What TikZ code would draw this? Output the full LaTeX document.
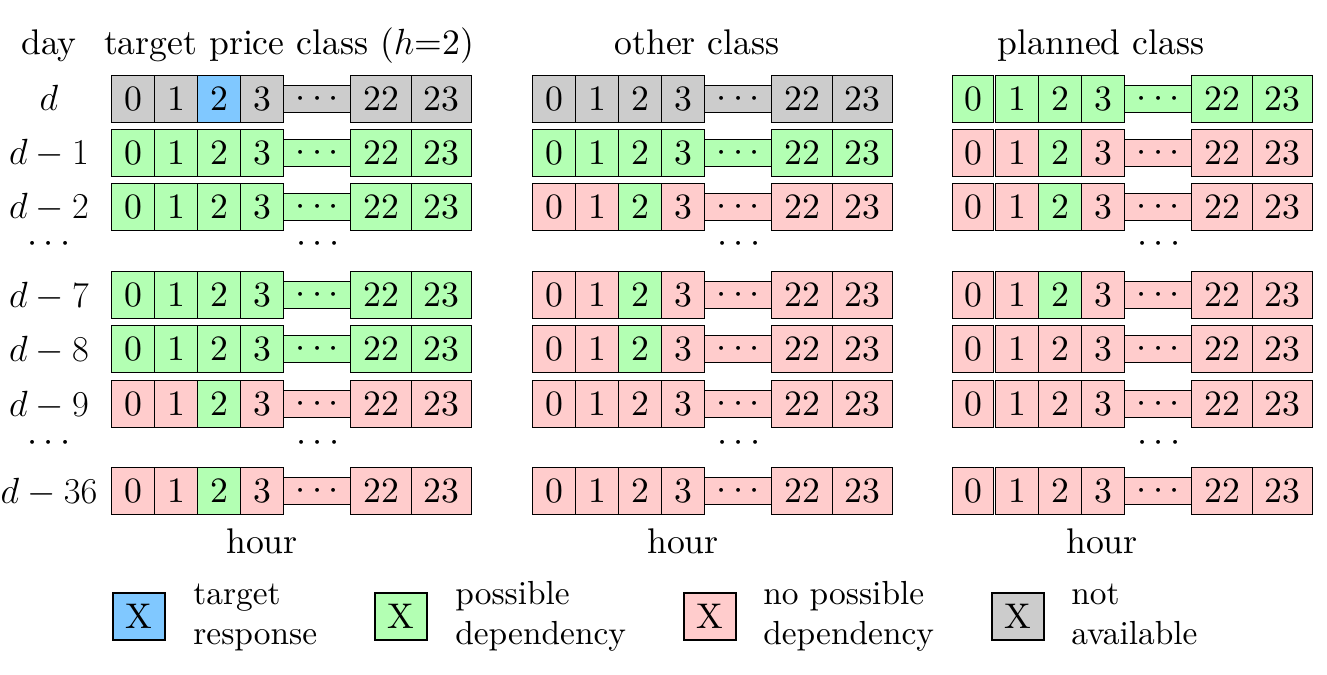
\documentclass[tikz,border=0pt]{standalone}
\usepackage{fontspec}
\setmainfont{lmroman10-regular}[Extension=.otf, BoldFont=lmroman10-bold, ItalicFont=lmroman10-italic]
\definecolor{cgray}{RGB}{204,204,204}
\definecolor{cblue}{RGB}{128,200,255}
\definecolor{cgreen}{RGB}{179,255,179}
\definecolor{cred}{RGB}{255,204,204}
\newcommand\bigfont{\fontsize{20.3}{25}\selectfont}
\newcommand\legfont{\fontsize{19}{23}\selectfont}
\tikzset{
  cell/.style={draw=black, line width=0.8pt, inner sep=0pt, anchor=west,
    minimum height=0.94cm, font=\bigfont},
  lab/.style={inner sep=0pt, font=\bigfont},
  legtext/.style={inner sep=0pt, font=\legfont, anchor=base west},
  legbox/.style={draw=black, line width=0.8pt, inner sep=0pt,
    minimum width=1.04cm, minimum height=0.94cm, font=\bigfont},
}
\newcommand\hrow[6]{%
  \node[cell, fill=#4, minimum width=#6*0.02cm] (#1c0) at (#2,#3) {0};
  \node[cell, fill=#4, minimum width=0.86cm] (#1c1) at (#2+43,#3) {1};
  \node[cell, fill=#5, minimum width=0.86cm] (#1c2) at (#2+86,#3) {2};
  \node[cell, fill=#4, minimum width=0.86cm] (#1c3) at (#2+129,#3) {3};
  \node[cell, fill=#4, minimum width=1.34cm, minimum height=0.54cm] (#1cd) at (#2+172,#3) {$\cdots$};
  \node[cell, fill=#4, minimum width=1.22cm] (#1c22) at (#2+239,#3) {22};
  \node[cell, fill=#4, minimum width=1.20cm] (#1c23) at (#2+300,#3) {23};
}
\begin{document}
\begin{tikzpicture}[x=0.02cm, y=-0.02cm]
\useasboundingbox (0,0) rectangle (1327,675);
% headers
\node[lab, anchor=base] (hday) at (49,55) {day};
\node[lab, anchor=base] (hA) at (289,55) {target price class ($h$=2)};
\node[lab, anchor=base] (hB) at (697,55) {other class};
\node[lab, anchor=base] (hC) at (1101,55) {planned class};
% row labels
\node[lab, anchor=base] (L0) at (49,111) {$d$};
\node[lab, anchor=base] (L1) at (49,165) {$d-1$};
\node[lab, anchor=base] (L2) at (49,219) {$d-2$};
\node[lab] (Ldots1) at (49,244) {$\cdots$};
\node[lab, anchor=base] (L7) at (49,307) {$d-7$};
\node[lab, anchor=base] (L8) at (49,361) {$d-8$};
\node[lab, anchor=base] (L9) at (49,416) {$d-9$};
\node[lab] (Ldots2) at (49,443) {$\cdots$};
\node[lab, anchor=base] (L36) at (49,503) {$d-36$};
% grid A: target price class
\hrow{A0}{111}{99}{cgray}{cblue}{43}
\hrow{A1}{111}{153}{cgreen}{cgreen}{43}
\hrow{A2}{111}{207}{cgreen}{cgreen}{43}
\hrow{A7}{111}{295}{cgreen}{cgreen}{43}
\hrow{A8}{111}{349}{cgreen}{cgreen}{43}
\hrow{A9}{111}{404}{cred}{cgreen}{43}
\hrow{A36}{111}{491}{cred}{cgreen}{43}
% grid B: other class
\hrow{B0}{532}{99}{cgray}{cgray}{43}
\hrow{B1}{532}{153}{cgreen}{cgreen}{43}
\hrow{B2}{532}{207}{cred}{cgreen}{43}
\hrow{B7}{532}{295}{cred}{cgreen}{43}
\hrow{B8}{532}{349}{cred}{cgreen}{43}
\hrow{B9}{532}{404}{cred}{cred}{43}
\hrow{B36}{532}{491}{cred}{cred}{43}
% grid C: planned class
\hrow{C0}{952}{99}{cgreen}{cgreen}{41}
\hrow{C1}{952}{153}{cred}{cgreen}{41}
\hrow{C2}{952}{207}{cred}{cgreen}{41}
\hrow{C7}{952}{295}{cred}{cgreen}{41}
\hrow{C8}{952}{349}{cred}{cred}{41}
\hrow{C9}{952}{404}{cred}{cred}{41}
\hrow{C36}{952}{491}{cred}{cred}{41}
% vertical dots in grids
\node[lab] (Adots1) at (111+207,244) {$\cdots$};
\node[lab] (Adots2) at (111+207,443) {$\cdots$};
\node[lab] (Bdots1) at (532+207,244) {$\cdots$};
\node[lab] (Bdots2) at (532+207,443) {$\cdots$};
\node[lab] (Cdots1) at (952+207,244) {$\cdots$};
\node[lab] (Cdots2) at (952+207,443) {$\cdots$};
% hour labels
\node[lab, anchor=base] (hourA) at (262,553) {hour};
\node[lab, anchor=base] (hourB) at (683,553) {hour};
\node[lab, anchor=base] (hourC) at (1102,553) {hour};
% legend
\node[legbox, fill=cblue] (k1) at (139,616.5) {X};
\node[legtext] (k1a) at (193,604) {target};
\node[legtext] (k1b) at (193,644) {response};
\node[legbox, fill=cgreen] (k2) at (401,616.5) {X};
\node[legtext] (k2a) at (455,604) {possible};
\node[legtext] (k2b) at (455,644) {dependency};
\node[legbox, fill=cred] (k3) at (710,616.5) {X};
\node[legtext] (k3a) at (763,604) {no possible};
\node[legtext] (k3b) at (763,644) {dependency};
\node[legbox, fill=cgray] (k4) at (1018,616.5) {X};
\node[legtext] (k4a) at (1071,604) {not};
\node[legtext] (k4b) at (1071,644) {available};
\end{tikzpicture}
\end{document}
